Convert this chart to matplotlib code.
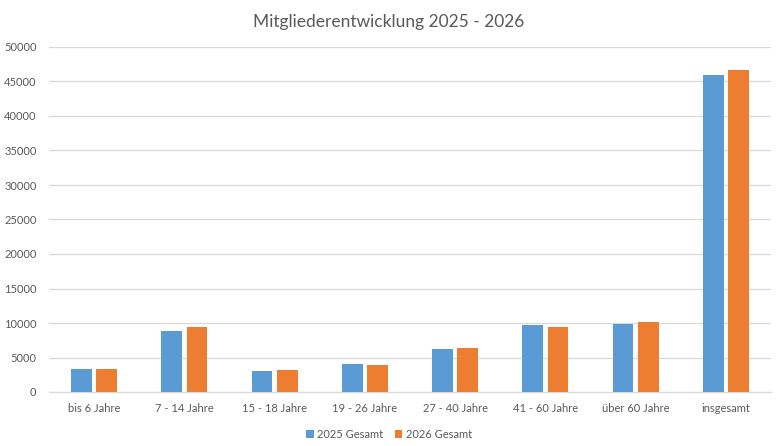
import matplotlib.pyplot as plt
import numpy as np

plt.rcParams["font.family"] = ["Lato", "DejaVu Sans"]

categories = ["bis 6 Jahre", "7 - 14 Jahre", "15 - 18 Jahre", "19 - 26 Jahre",
              "27 - 40 Jahre", "41 - 60 Jahre", "über 60 Jahre", "insgesamt"]
values_2025 = [3380, 8880, 3090, 4100, 6230, 9710, 9860, 45910]
values_2026 = [3380, 9460, 3230, 3960, 6380, 9420, 10140, 46640]
series_names = ["2025 Gesamt", "2026 Gesamt"]
yticks = [0, 5000, 10000, 15000, 20000, 25000, 30000, 35000, 40000, 45000, 50000]

blue = "#5B9BD5"
orange = "#ED7D31"
txt = "#595959"
grid = "#D9D9D9"

fig = plt.figure(figsize=(7.78, 4.46), dpi=100)
ax = fig.add_axes([49/778, 54/446, 722/778, 345/446])

x = np.arange(len(categories))
w = 0.23
ax.bar(x - 0.14, values_2025, width=w, color=blue, label=series_names[0], zorder=3)
ax.bar(x + 0.14, values_2026, width=w, color=orange, label=series_names[1], zorder=3)

ax.set_xlim(-0.5, len(categories) - 0.5)
ax.set_ylim(0, 50000)
ax.set_yticks(yticks)
ax.set_yticklabels([str(t) for t in yticks], color=txt, fontsize=8)
ax.set_xticks(x)
ax.set_xticklabels(categories, color=txt, fontsize=8)
ax.tick_params(axis="both", length=0)
ax.tick_params(axis="y", pad=9)
ax.tick_params(axis="x", pad=8)

ax.grid(axis="y", color=grid, linewidth=0.9, zorder=0)
for s in ["top", "right", "left"]:
    ax.spines[s].set_visible(False)
ax.spines["bottom"].set_color(grid)
ax.spines["bottom"].set_linewidth(0.9)

fig.text(0.5, 1 - 22/446, "Mitgliederentwicklung 2025 - 2026", ha="center", va="center",
         fontsize=12.5, color=txt)

leg = fig.legend(loc="center", bbox_to_anchor=(0.5, 1 - 434/446), ncol=2, frameon=False,
                 fontsize=8, handlelength=0.7, handleheight=0.7, handletextpad=0.3,
                 columnspacing=1.0)
for t in leg.get_texts():
    t.set_color(txt)

fig.savefig("out.png", dpi=100)
